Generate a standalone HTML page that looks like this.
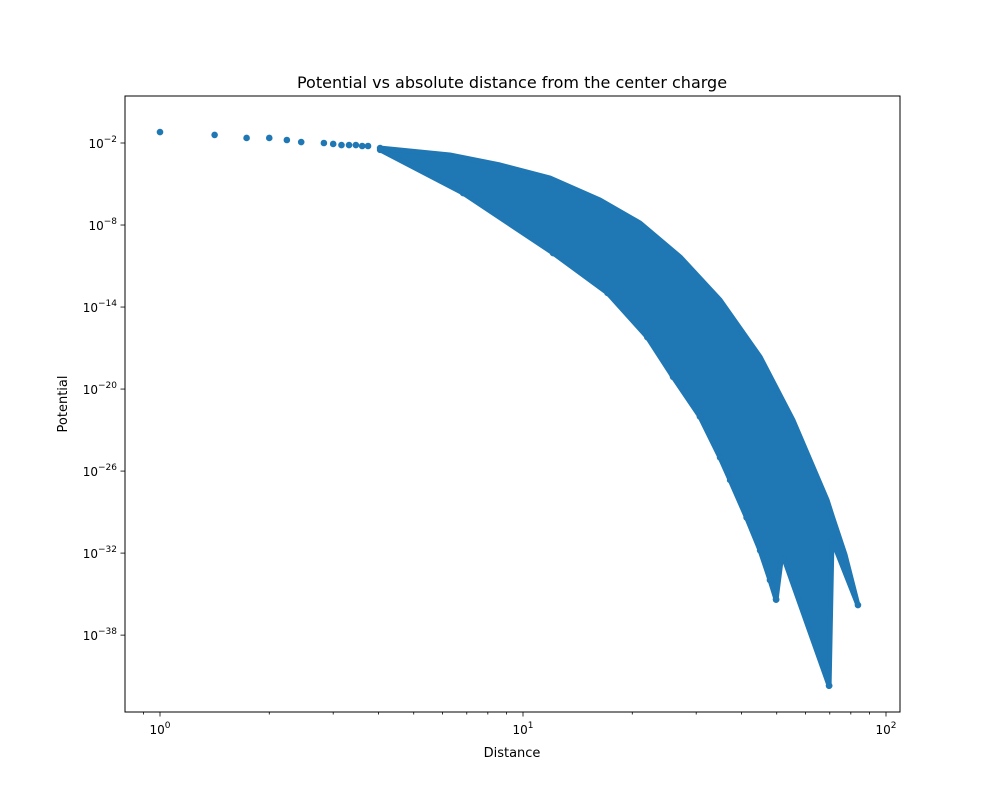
<!DOCTYPE html>
<html><head><meta charset="utf-8"><style>
body{margin:0;background:#fff}
svg text{font-family:"DejaVu Sans","Liberation Sans",sans-serif;fill:#000}
</style></head><body>
<svg id="chart" width="1000" height="800" xmlns="http://www.w3.org/2000/svg">
<rect width="1000" height="800" fill="#fff"/>
<text x="512" y="88" font-size="16" text-anchor="middle">Potential vs absolute distance from the center charge</text>
<g id="plot"></g>
<g id="axes"></g>
<text x="512" y="757" font-size="13" text-anchor="middle">Distance</text>
<text transform="translate(67,404) rotate(-90)" font-size="13" text-anchor="middle">Potential</text>
</svg>
<script>
// isolated points at small distances (distance, log10 potential)
const pointDist = [1, 1.414, 1.732, 2, 2.236, 2.449, 2.828, 3, 3.162, 3.317, 3.464, 3.606, 3.742, 4.04];
const pointExp = [-1.2, -1.41, -1.63, -1.63, -1.78, -1.93, -2.0, -2.07, -2.15, -2.15, -2.15, -2.22, -2.22, -2.37];
// upper edge of the dense cloud
const upperDist = [4.04, 6.29, 8.65, 11.87, 16.3, 21.0, 27.1, 34.9, 45.0, 55.4, 68.8, 71.3, 77.1, 83.7];
const upperExp = [-2.37, -2.88, -3.61, -4.56, -6.17, -7.85, -10.34, -13.48, -17.65, -22.26, -28.1, -29.4, -32.1, -35.8];
// lower edge of the dense cloud (right to left)
const lowerDist = [83.7, 71.0, 69.7, 51.7, 49.8, 47.9, 45.0, 41.3, 37.2, 34.9, 30.7, 25.9, 22.0, 17.1, 12.1, 6.84, 4.04];
const lowerExp = [-35.8, -31.0, -41.7, -32.0, -35.4, -33.97, -31.8, -29.4, -26.65, -25.0, -22.0, -19.1, -16.2, -12.97, -10.05, -5.66, -2.5];
// outlier dots near the lower edge
const outDist = [49.8, 49.2, 69.7, 69.3];
const outExp = [-35.4, -34.4, -41.7, -40.6];
const xTickLabels = ['0', '1', '2'];
const yTickLabels = ['-2', '-8', '-14', '-20', '-26', '-32', '-38'];

const L = 125, R = 900, T = 96, B = 712;
const X0 = 160, XDEC = 363, Y0 = 143, YDEC = 13.67;
function xs(d) { return X0 + Math.log10(d) * XDEC; }
function ys(e) { return Y0 + (-2 - e) * YDEC; }
const NS = 'http://www.w3.org/2000/svg';
const plot = document.getElementById('plot');
const axes = document.getElementById('axes');
const C = '#1f77b4';

let pts = [];
for (let i = 0; i < upperDist.length; i++) pts.push(xs(upperDist[i]).toFixed(1) + ',' + ys(upperExp[i]).toFixed(1));
for (let i = 0; i < lowerDist.length; i++) pts.push(xs(lowerDist[i]).toFixed(1) + ',' + ys(lowerExp[i]).toFixed(1));
const poly = document.createElementNS(NS, 'polygon');
poly.setAttribute('points', pts.join(' '));
poly.setAttribute('fill', C);
poly.setAttribute('stroke', C);
poly.setAttribute('stroke-width', '5');
poly.setAttribute('stroke-linejoin', 'round');


plot.appendChild(poly);

function dot(d, e, name) {
  const c = document.createElementNS(NS, 'circle');
  c.setAttribute('cx', xs(d)); c.setAttribute('cy', ys(e)); c.setAttribute('r', 3.3);
  c.setAttribute('fill', C);
  
  
  plot.appendChild(c);
}
for (let i = 0; i < pointDist.length; i++) dot(pointDist[i], pointExp[i], 'scatter-point');
for (let i = 0; i < outDist.length; i++) dot(outDist[i], outExp[i], 'scatter-point');
for (let i = 0; i < lowerDist.length; i++) dot(lowerDist[i], lowerExp[i], 'scatter-point');

const frame = document.createElementNS(NS, 'rect');
frame.setAttribute('x', L); frame.setAttribute('y', T);
frame.setAttribute('width', R - L); frame.setAttribute('height', B - T);
frame.setAttribute('fill', 'none'); frame.setAttribute('stroke', '#000'); frame.setAttribute('stroke-width', '1');


axes.appendChild(frame);

function line(x1, y1, x2, y2, name) {
  const l = document.createElementNS(NS, 'line');
  l.setAttribute('x1', x1); l.setAttribute('y1', y1); l.setAttribute('x2', x2); l.setAttribute('y2', y2);
  l.setAttribute('stroke', '#000'); l.setAttribute('stroke-width', '0.8');
  
  
  axes.appendChild(l);
}
function label(x, y, base, exp, anchor, name) {
  const t = document.createElementNS(NS, 'text');
  t.setAttribute('x', x); t.setAttribute('y', y); t.setAttribute('font-size', '12');
  t.setAttribute('text-anchor', anchor);
  
  
  t.innerHTML = base + '<tspan dy="-6" font-size="9">' + exp.replace('-', '\u2212') + '</tspan>';
  axes.appendChild(t);
}
xTickLabels.forEach(s => {
  const x = xs(Math.pow(10, +s));
  line(x, B, x, B + 4.5, 'x-tick');
  label(x, B + 22, '10', s, 'middle', 'x-tick-label');
});
for (let dec = -1; dec <= 2; dec++) for (let m = 2; m <= 9; m++) {
  const v = m * Math.pow(10, dec); const x = xs(v);
  if (x >= L && x <= R) line(x, B, x, B + 2.5, 'x-minor-tick');
}
yTickLabels.forEach(s => {
  const y = ys(+s);
  line(L - 4.5, y, L, y, 'y-tick');
  label(L - 8, y + 5, '10', s, 'end', 'y-tick-label');
});
</script>
</body></html>
